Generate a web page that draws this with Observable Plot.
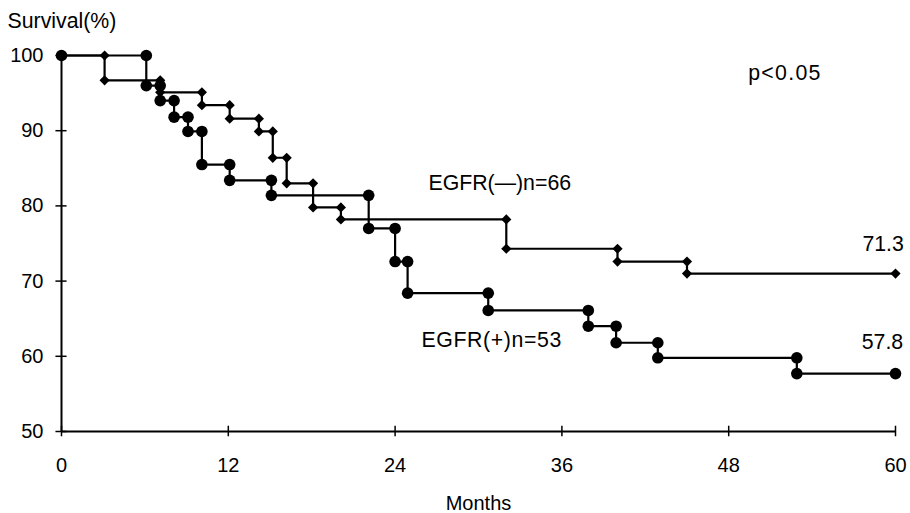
<!DOCTYPE html>
<html><head><meta charset="utf-8">
<script src="https://cdn.jsdelivr.net/npm/d3@7"></script>
<script src="https://cdn.jsdelivr.net/npm/@observablehq/plot@0.6"></script>
<style>
  html,body{margin:0;padding:0;background:#fff}
  svg{font-family:"Liberation Sans",Arial,Helvetica,sans-serif}
</style>
</head><body><div id="chart"></div>
<script>
// EGFR(−) : event months and survival (%) after each step
const negTimes = [3.1, 7.1, 10.1, 12.1, 14.2, 15.2, 16.2, 18.1, 20.1, 32.0, 40.0, 45.0];
const negSurv  = [96.7, 95.1, 93.4, 91.6, 89.9, 86.4, 83.0, 79.8, 78.2, 74.3, 72.6, 71.0];
// EGFR(+) : event months and survival (%) after each step
const posTimes = [6.1, 7.1, 8.1, 9.1, 10.1, 12.1, 15.1, 22.1, 24.0, 24.9, 30.7, 37.9, 39.9, 42.9, 52.9];
const posSurv  = [96.0, 94.0, 91.8, 89.9, 85.5, 83.4, 81.4, 77.0, 72.6, 68.4, 66.1, 64.0, 61.8, 59.8, 57.7];
const followUp = 60;
const xTicks = [0, 12, 24, 36, 48, 60];
const yTicks = [50, 60, 70, 80, 90, 100];
const negLabel = "EGFR(—)n=66";
const posLabel = "EGFR(+)n=53";
const negFinal = "71.3";
const posFinal = "57.8";
const pLabel = "p<0.05";
const yTitle = "Survival(%)";
const xTitle = "Months";

function steps(times, surv) {
  const pts = [{t: 0, s: 100}];
  let prev = 100;
  times.forEach((t, i) => {
    pts.push({t, s: prev});
    pts.push({t, s: surv[i]});
    prev = surv[i];
  });
  pts.push({t: followUp, s: prev});
  return pts;
}
const negPts = steps(negTimes, negSurv);
const posPts = steps(posTimes, posSurv);

const fs = 20;
const fa = 21.3;
const chart = Plot.plot({
  width: 910,
  height: 513,
  marginLeft: 61,
  marginRight: 15,
  marginTop: 55,
  marginBottom: 82,
  x: {domain: [0, 60]},
  y: {domain: [50, 100]},
  style: {background: "#fff", color: "#000", fontSize: fs + "px", fontFamily: "'Liberation Sans', Arial, sans-serif"},
  marks: [
    Plot.axisX({ticks: xTicks, tickSize: 0, tickPadding: 26, fontSize: fs, label: null}),
    Plot.axisY({ticks: yTicks, tickSize: 0, tickPadding: 18, fontSize: fs, label: null}),
    Plot.ruleY([50], {x1: 0, x2: 60, stroke: "#000", strokeWidth: 2}),
    Plot.ruleX([0], {y1: 50, y2: 100, stroke: "#000", strokeWidth: 2}),
    Plot.ruleX(xTicks, {x: d => d, y1: 49.3, y2: 50.7, stroke: "#000", strokeWidth: 1.5}),
    Plot.ruleY(yTicks, {y: d => d, x1: -0.4, x2: 0.4, stroke: "#000", strokeWidth: 1.5}),
    Plot.line(negPts, {x: "t", y: "s", stroke: "#000", strokeWidth: 2.2}),
    Plot.line(posPts, {x: "t", y: "s", stroke: "#000", strokeWidth: 2.2}),
    Plot.dot(negPts.slice(1), {x: "t", y: "s", symbol: "diamond2", r: 4.6, fill: "#000", stroke: null}),
    Plot.dot(posPts, {x: "t", y: "s", r: 5.8, fill: "#000", stroke: null}),
    Plot.text([yTitle], {frameAnchor: "top-left", dx: -54, dy: -34, textAnchor: "start", lineAnchor: "middle", fontSize: fa}),
    Plot.text([xTitle], {frameAnchor: "bottom", dy: 72, textAnchor: "middle", lineAnchor: "middle", fontSize: fs}),
    Plot.text([pLabel], {x: 49.4, y: 97.7, textAnchor: "start", lineAnchor: "middle", fontSize: fa}),
    Plot.text([negLabel], {x: 26.4, y: 83.05, textAnchor: "start", lineAnchor: "middle", fontSize: fa}),
    Plot.text([posLabel], {x: 25.9, y: 62.2, textAnchor: "start", lineAnchor: "middle", fontSize: fa}),
    Plot.text([negFinal], {x: 60.6, y: 74.9, textAnchor: "end", lineAnchor: "middle", fontSize: fa}),
    Plot.text([posFinal], {x: 60.55, y: 61.9, textAnchor: "end", lineAnchor: "middle", fontSize: fa})
  ]
});
d3.select(chart).selectAll("text")
  .filter(function () { return this.textContent === pLabel; })
  .attr("letter-spacing", "1.3px");
d3.select(chart).selectAll("text")
  .filter(function () { return this.textContent === posLabel; })
  .attr("letter-spacing", "0.6px");
document.getElementById("chart").appendChild(chart);
</script>
</body></html>
